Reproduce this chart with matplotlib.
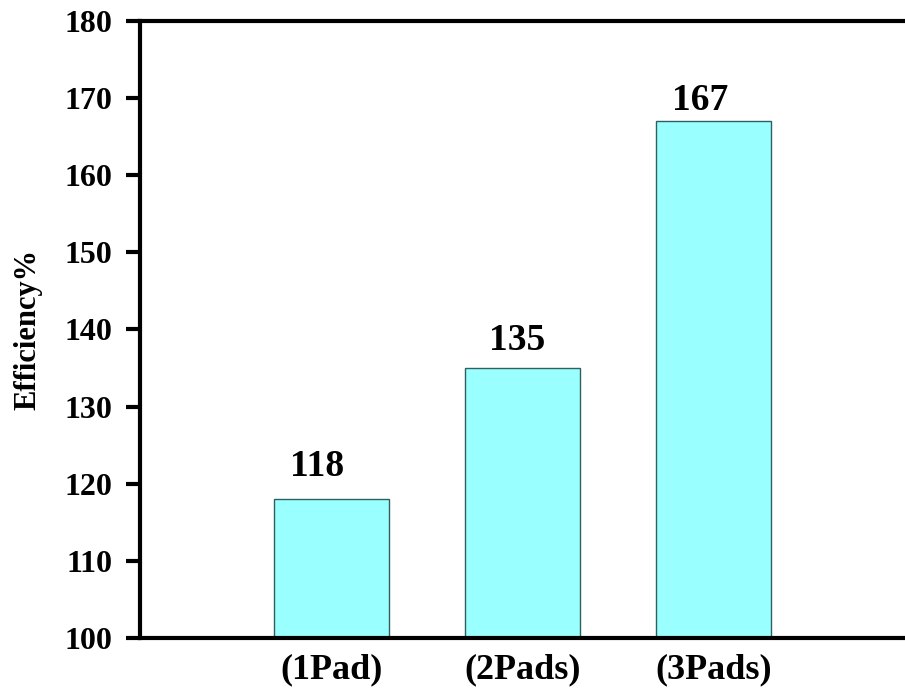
import matplotlib
matplotlib.use('Agg')
import matplotlib.pyplot as plt

categories = ['(1Pad)', '(2Pads)', '(3Pads)']
efficiency = [118, 135, 167]
yticks = [100, 110, 120, 130, 140, 150, 160, 170, 180]

plt.rcParams['font.family'] = ['Liberation Serif', 'DejaVu Serif']
plt.rcParams['font.weight'] = 'bold'

fig = plt.figure(figsize=(9.05, 6.9), dpi=100)
ax = fig.add_axes([0.1547, 0.0754, 0.8453, 0.8942])

x = range(len(categories))
bars = ax.bar(x, efficiency, width=0.6, color='#99ffff',
              edgecolor='#2f5f5f', linewidth=1.0)

# value labels above bars (offsets in points)
label_offsets = [(-10, 17), (-4, 13), (-10, 8)]
for xi, v, off in zip(x, efficiency, label_offsets):
    ax.annotate(str(v), (xi, v), xytext=off, textcoords='offset points',
                ha='center', va='baseline', fontsize=27, fontweight='bold')

ax.set_xlim(-1, 3)
ax.set_ylim(100, 180)
ax.set_yticks(yticks)
ax.set_xticks(list(x))
ax.set_xticklabels(categories, fontsize=26, fontweight='bold')
ax.tick_params(axis='y', length=10, width=3, direction='out', pad=10,
               labelsize=23)
ax.tick_params(axis='x', length=0, pad=11)
for lbl in ax.get_yticklabels():
    lbl.set_fontweight('bold')

ax.set_ylabel('Efficiency%', fontsize=22, fontweight='bold')
ax.yaxis.set_label_coords(-0.128, 0.5)

for side in ['left', 'bottom', 'top']:
    ax.spines[side].set_linewidth(3)
ax.spines['right'].set_visible(False)

fig.savefig('out.png', dpi=100)
